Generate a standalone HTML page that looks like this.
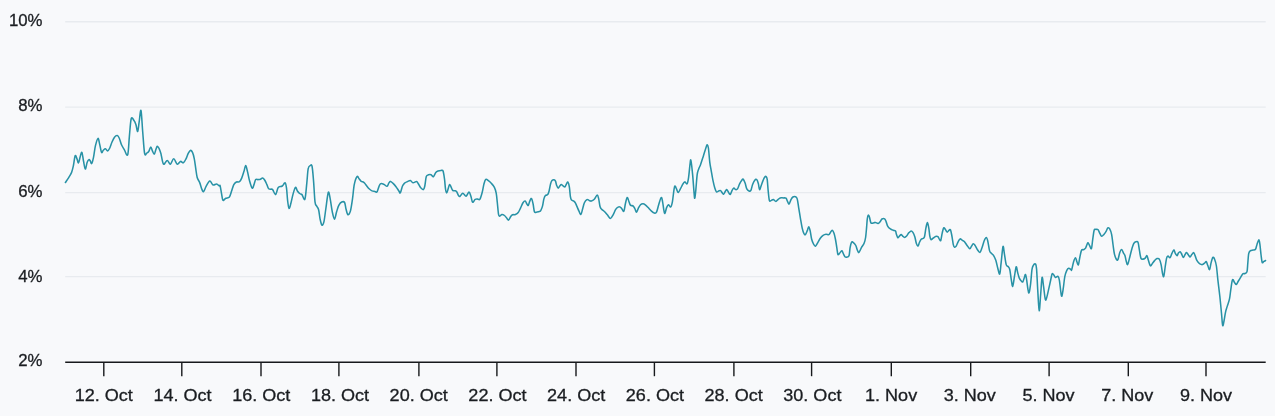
<!DOCTYPE html>
<html><head><meta charset="utf-8"><style>
html,body{margin:0;padding:0;background:#f8f9fb;}
body{width:1275px;height:416px;overflow:hidden;}
svg{display:block;will-change:transform;}
text{font-family:"Liberation Sans",sans-serif;font-size:16.8px;fill:#1a1d21;stroke:#1a1d21;stroke-width:0.3px;}
</style></head><body>
<svg width="1275" height="416" viewBox="0 0 1275 416">
<rect width="1275" height="416" fill="#f8f9fb"/>
<line x1="65.2" x2="1265.7" y1="21.7" y2="21.7" stroke="#e8ebef" stroke-width="1.4"/>
<line x1="65.2" x2="1265.7" y1="107.1" y2="107.1" stroke="#e8ebef" stroke-width="1.4"/>
<line x1="65.2" x2="1265.7" y1="192.6" y2="192.6" stroke="#e8ebef" stroke-width="1.4"/>
<line x1="65.2" x2="1265.7" y1="276.6" y2="276.6" stroke="#e8ebef" stroke-width="1.4"/>
<path d="M65.40 182.50 C65.95 181.68 67.68 179.25 68.70 177.60 C69.72 175.95 70.73 174.52 71.50 172.60 C72.27 170.68 72.68 168.92 73.30 166.10 C73.92 163.28 74.58 156.90 75.20 155.70 C75.82 154.50 76.45 157.70 77.00 158.90 C77.55 160.10 77.97 163.27 78.50 162.90 C79.03 162.53 79.63 158.45 80.20 156.70 C80.77 154.95 81.35 151.68 81.90 152.40 C82.45 153.12 82.93 158.23 83.50 161.00 C84.07 163.77 84.70 168.75 85.30 169.00 C85.90 169.25 86.50 164.07 87.10 162.50 C87.70 160.93 88.37 159.85 88.90 159.60 C89.43 159.35 89.83 160.35 90.30 161.00 C90.77 161.65 91.17 164.10 91.70 163.50 C92.23 162.90 92.88 160.33 93.50 157.40 C94.12 154.47 94.65 149.07 95.40 145.90 C96.15 142.73 97.28 138.65 98.00 138.40 C98.72 138.15 99.10 142.07 99.70 144.40 C100.30 146.73 101.00 151.43 101.60 152.40 C102.20 153.37 102.65 150.80 103.30 150.20 C103.95 149.60 104.78 148.68 105.50 148.80 C106.22 148.92 106.88 151.03 107.60 150.90 C108.32 150.77 109.08 149.43 109.80 148.00 C110.52 146.57 111.12 144.10 111.90 142.30 C112.68 140.50 113.60 138.32 114.50 137.20 C115.40 136.08 116.50 135.43 117.30 135.60 C118.10 135.77 118.60 136.68 119.30 138.20 C120.00 139.72 120.65 142.77 121.50 144.70 C122.35 146.63 123.37 148.12 124.40 149.80 C125.43 151.48 126.87 157.08 127.70 154.80 C128.53 152.52 128.82 142.10 129.40 136.10 C129.98 130.10 130.47 121.45 131.20 118.80 C131.93 116.15 133.02 119.25 133.80 120.20 C134.58 121.15 135.25 122.62 135.90 124.50 C136.55 126.38 137.15 131.98 137.70 131.50 C138.25 131.02 138.65 125.12 139.20 121.60 C139.75 118.08 140.42 108.72 141.00 110.40 C141.58 112.08 142.10 124.53 142.70 131.70 C143.30 138.87 143.93 149.83 144.60 153.40 C145.27 156.97 145.98 153.47 146.70 153.10 C147.42 152.73 148.22 152.23 148.90 151.20 C149.58 150.17 150.20 146.90 150.80 146.90 C151.40 146.90 151.92 150.00 152.50 151.20 C153.08 152.40 153.75 154.33 154.30 154.10 C154.85 153.87 155.30 151.12 155.80 149.80 C156.30 148.48 156.77 146.45 157.30 146.20 C157.83 145.95 158.40 147.10 159.00 148.30 C159.60 149.50 160.50 152.13 160.90 153.40 C161.30 154.67 160.95 154.10 161.40 155.90 C161.85 157.70 162.63 163.43 163.60 164.20 C164.57 164.97 166.07 160.50 167.20 160.50 C168.33 160.50 169.32 164.48 170.40 164.20 C171.48 163.92 172.55 158.80 173.70 158.80 C174.85 158.80 176.17 163.77 177.30 164.20 C178.43 164.63 179.48 161.63 180.50 161.40 C181.52 161.17 182.48 163.23 183.40 162.80 C184.32 162.37 185.22 160.32 186.00 158.80 C186.78 157.28 187.38 155.10 188.10 153.70 C188.82 152.30 189.57 150.63 190.30 150.40 C191.03 150.17 191.83 150.90 192.50 152.30 C193.17 153.70 193.75 156.03 194.30 158.80 C194.85 161.57 195.32 165.78 195.80 168.90 C196.28 172.02 196.55 175.22 197.20 177.50 C197.85 179.78 198.93 180.67 199.70 182.60 C200.47 184.53 201.15 187.58 201.80 189.10 C202.45 190.62 202.87 192.18 203.60 191.70 C204.33 191.22 205.17 187.97 206.20 186.20 C207.23 184.43 208.65 181.30 209.80 181.10 C210.95 180.90 211.97 184.52 213.10 185.00 C214.23 185.48 215.58 183.85 216.60 184.00 C217.62 184.15 218.62 185.60 219.20 185.90 C219.78 186.20 219.72 184.57 220.10 185.80 C220.48 187.03 221.03 190.90 221.50 193.30 C221.97 195.70 222.18 199.37 222.90 200.20 C223.62 201.03 224.72 198.85 225.80 198.30 C226.88 197.75 228.43 198.10 229.40 196.90 C230.37 195.70 230.87 193.15 231.60 191.10 C232.33 189.05 233.00 186.12 233.80 184.60 C234.60 183.08 235.45 182.48 236.40 182.00 C237.35 181.52 238.62 182.35 239.50 181.70 C240.38 181.05 240.97 179.78 241.70 178.10 C242.43 176.42 243.23 173.68 243.90 171.60 C244.57 169.52 245.10 165.60 245.70 165.60 C246.30 165.60 246.85 169.03 247.50 171.60 C248.15 174.17 248.82 178.23 249.60 181.00 C250.38 183.77 251.47 187.60 252.20 188.20 C252.93 188.80 253.42 186.03 254.00 184.60 C254.58 183.17 254.98 180.43 255.70 179.60 C256.42 178.77 257.50 179.65 258.30 179.60 C259.10 179.55 259.78 179.55 260.50 179.30 C261.22 179.05 261.88 177.93 262.60 178.10 C263.32 178.27 264.08 179.22 264.80 180.30 C265.52 181.38 266.25 183.20 266.90 184.60 C267.55 186.00 267.85 187.93 268.70 188.70 C269.55 189.47 271.30 188.98 272.00 189.20 C272.70 189.42 272.32 189.10 272.90 190.00 C273.48 190.90 274.67 194.92 275.50 194.60 C276.33 194.28 277.25 189.42 277.90 188.10 C278.55 186.78 278.67 187.05 279.40 186.70 C280.13 186.35 281.33 186.65 282.30 186.00 C283.27 185.35 284.48 182.32 285.20 182.80 C285.92 183.28 286.20 185.97 286.60 188.90 C287.00 191.83 287.20 197.17 287.60 200.40 C288.00 203.63 288.45 207.82 289.00 208.30 C289.55 208.78 290.22 205.70 290.90 203.30 C291.58 200.90 292.33 196.55 293.10 193.90 C293.87 191.25 294.78 187.88 295.50 187.40 C296.22 186.92 296.72 189.98 297.40 191.00 C298.08 192.02 298.83 192.90 299.60 193.50 C300.37 194.10 301.12 193.65 302.00 194.60 C302.88 195.55 304.10 201.12 304.90 199.20 C305.70 197.28 306.25 188.18 306.80 183.10 C307.35 178.02 307.60 171.63 308.20 168.70 C308.80 165.77 309.75 165.87 310.40 165.50 C311.05 165.13 311.57 163.82 312.10 166.50 C312.63 169.18 313.12 175.72 313.60 181.60 C314.08 187.48 314.48 197.72 315.00 201.80 C315.52 205.88 316.10 204.78 316.70 206.10 C317.30 207.42 318.03 207.53 318.60 209.70 C319.17 211.87 319.55 216.53 320.10 219.10 C320.65 221.67 321.27 224.63 321.90 225.10 C322.53 225.57 323.25 224.58 323.90 221.90 C324.55 219.22 325.07 213.92 325.80 209.00 C326.53 204.08 327.57 194.08 328.30 192.40 C329.03 190.72 329.53 195.67 330.20 198.90 C330.87 202.13 331.58 208.43 332.30 211.80 C333.02 215.17 333.78 219.10 334.50 219.10 C335.22 219.10 335.88 214.08 336.60 211.80 C337.32 209.52 337.95 207.03 338.80 205.40 C339.65 203.77 340.73 202.48 341.70 202.00 C342.67 201.52 343.88 201.33 344.60 202.50 C345.32 203.67 345.45 206.97 346.00 209.00 C346.55 211.03 347.17 214.35 347.90 214.70 C348.63 215.05 349.63 213.73 350.40 211.10 C351.17 208.47 351.85 203.35 352.50 198.90 C353.15 194.45 353.53 188.13 354.30 184.40 C355.07 180.67 356.32 177.45 357.10 176.50 C357.88 175.55 358.32 177.90 359.00 178.70 C359.68 179.50 360.40 180.70 361.20 181.30 C362.00 181.90 362.97 181.65 363.80 182.30 C364.63 182.95 365.32 184.12 366.20 185.20 C367.08 186.28 368.13 187.85 369.10 188.80 C370.07 189.75 371.03 190.47 372.00 190.90 C372.97 191.33 374.08 191.22 374.90 191.40 C375.72 191.58 376.27 192.67 376.90 192.00 C377.53 191.33 378.12 188.77 378.70 187.40 C379.28 186.03 379.57 184.33 380.40 183.80 C381.23 183.27 382.60 183.78 383.70 184.20 C384.80 184.62 386.15 186.48 387.00 186.30 C387.85 186.12 388.22 183.92 388.80 183.10 C389.38 182.28 389.78 181.35 390.50 181.40 C391.22 181.45 392.18 182.52 393.10 183.40 C394.02 184.28 395.03 185.43 396.00 186.70 C396.97 187.97 398.18 189.97 398.90 191.00 C399.62 192.03 399.70 193.73 400.30 192.90 C400.90 192.07 401.78 187.63 402.50 186.00 C403.22 184.37 403.77 183.83 404.60 183.10 C405.43 182.37 406.53 182.03 407.50 181.60 C408.47 181.17 409.48 180.30 410.40 180.50 C411.32 180.70 411.98 182.62 413.00 182.80 C414.02 182.98 415.62 181.43 416.50 181.60 C417.38 181.77 417.63 182.83 418.30 183.80 C418.97 184.77 419.65 186.43 420.50 187.40 C421.35 188.37 422.68 189.83 423.40 189.60 C424.12 189.37 424.32 188.17 424.80 186.00 C425.28 183.83 425.67 178.47 426.30 176.60 C426.93 174.73 427.80 175.10 428.60 174.80 C429.40 174.50 430.30 174.48 431.10 174.80 C431.90 175.12 432.62 177.10 433.40 176.70 C434.18 176.30 435.03 173.37 435.80 172.40 C436.57 171.43 437.15 171.22 438.00 170.90 C438.85 170.58 440.07 170.50 440.90 170.50 C441.73 170.50 442.40 169.50 443.00 170.90 C443.60 172.30 444.08 175.88 444.50 178.90 C444.92 181.92 445.15 186.65 445.50 189.00 C445.85 191.35 446.17 193.00 446.60 193.00 C447.03 193.00 447.62 190.40 448.10 189.00 C448.58 187.60 449.02 184.97 449.50 184.60 C449.98 184.23 450.47 185.83 451.00 186.80 C451.53 187.77 451.98 189.75 452.70 190.40 C453.42 191.05 454.63 190.47 455.30 190.70 C455.97 190.93 456.17 191.00 456.70 191.80 C457.23 192.60 457.97 194.72 458.50 195.50 C459.03 196.28 459.18 196.87 459.90 196.50 C460.62 196.13 461.77 193.35 462.80 193.30 C463.83 193.25 465.07 196.40 466.10 196.20 C467.13 196.00 468.20 192.10 469.00 192.10 C469.80 192.10 470.30 194.52 470.90 196.20 C471.50 197.88 471.88 201.67 472.60 202.20 C473.32 202.73 474.35 199.92 475.20 199.40 C476.05 198.88 476.93 199.10 477.70 199.10 C478.47 199.10 479.07 200.45 479.80 199.40 C480.53 198.35 481.40 195.40 482.10 192.80 C482.80 190.20 483.38 186.03 484.00 183.80 C484.62 181.57 485.02 179.88 485.80 179.40 C486.58 178.92 487.75 180.22 488.70 180.90 C489.65 181.58 490.55 182.42 491.50 183.50 C492.45 184.58 493.62 185.80 494.40 187.40 C495.18 189.00 495.72 190.58 496.20 193.10 C496.68 195.62 496.92 199.00 497.30 202.50 C497.68 206.00 498.13 211.82 498.50 214.10 C498.87 216.38 498.93 216.13 499.50 216.20 C500.07 216.27 501.07 214.62 501.90 214.50 C502.73 214.38 503.70 214.90 504.50 215.50 C505.30 216.10 506.02 217.33 506.70 218.10 C507.38 218.87 507.95 220.33 508.60 220.10 C509.25 219.87 509.95 217.58 510.60 216.70 C511.25 215.82 511.70 215.17 512.50 214.80 C513.30 214.43 514.45 214.87 515.40 214.50 C516.35 214.13 517.37 213.63 518.20 212.60 C519.03 211.57 519.60 209.93 520.40 208.30 C521.20 206.67 522.20 204.00 523.00 202.80 C523.80 201.60 524.55 200.90 525.20 201.10 C525.85 201.30 526.38 203.28 526.90 204.00 C527.42 204.72 527.82 205.88 528.30 205.40 C528.78 204.92 529.27 202.25 529.80 201.10 C530.33 199.95 530.95 198.02 531.50 198.50 C532.05 198.98 532.60 201.77 533.10 204.00 C533.60 206.23 533.85 210.58 534.50 211.90 C535.15 213.22 536.08 212.02 537.00 211.90 C537.92 211.78 539.37 211.43 540.00 211.20 C540.63 210.97 540.38 211.35 540.80 210.50 C541.22 209.65 541.98 208.03 542.50 206.10 C543.02 204.17 543.42 200.65 543.90 198.90 C544.38 197.15 544.77 196.32 545.40 195.60 C546.03 194.88 547.08 195.37 547.70 194.60 C548.32 193.83 548.62 192.80 549.10 191.00 C549.58 189.20 550.12 185.53 550.60 183.80 C551.08 182.07 551.43 181.28 552.00 180.60 C552.57 179.92 553.42 179.60 554.00 179.70 C554.58 179.80 555.07 180.28 555.50 181.20 C555.93 182.12 556.17 184.05 556.60 185.20 C557.03 186.35 557.57 187.98 558.10 188.10 C558.63 188.22 559.27 186.50 559.80 185.90 C560.33 185.30 560.75 184.50 561.30 184.50 C561.85 184.50 562.48 185.50 563.10 185.90 C563.72 186.30 564.43 187.25 565.00 186.90 C565.57 186.55 566.02 184.62 566.50 183.80 C566.98 182.98 567.43 181.53 567.90 182.00 C568.37 182.47 568.88 184.15 569.30 186.60 C569.72 189.05 570.05 194.48 570.40 196.70 C570.75 198.92 570.93 199.22 571.40 199.90 C571.87 200.58 572.58 200.37 573.20 200.80 C573.82 201.23 574.50 201.62 575.10 202.50 C575.70 203.38 576.15 204.65 576.80 206.10 C577.45 207.55 578.32 209.82 579.00 211.20 C579.68 212.58 580.30 214.77 580.90 214.40 C581.50 214.03 582.02 210.93 582.60 209.00 C583.18 207.07 583.68 204.37 584.40 202.80 C585.12 201.23 586.12 200.00 586.90 199.60 C587.68 199.20 588.37 200.15 589.10 200.40 C589.83 200.65 590.43 201.28 591.30 201.10 C592.17 200.92 593.32 200.32 594.30 199.30 C595.28 198.28 596.47 195.07 597.20 195.00 C597.93 194.93 598.22 196.93 598.70 198.90 C599.18 200.87 599.58 205.05 600.10 206.80 C600.62 208.55 601.08 208.62 601.80 209.40 C602.52 210.18 603.48 210.60 604.40 211.50 C605.32 212.40 606.28 213.65 607.30 214.80 C608.32 215.95 609.53 218.40 610.50 218.40 C611.47 218.40 612.23 216.30 613.10 214.80 C613.97 213.30 614.87 210.68 615.70 209.40 C616.53 208.12 617.33 207.48 618.10 207.10 C618.87 206.72 619.65 206.78 620.30 207.10 C620.95 207.42 621.40 208.32 622.00 209.00 C622.60 209.68 623.33 212.08 623.90 211.20 C624.47 210.32 624.85 205.98 625.40 203.70 C625.95 201.42 626.60 197.82 627.20 197.50 C627.80 197.18 628.47 200.53 629.00 201.80 C629.53 203.07 629.68 204.38 630.40 205.10 C631.12 205.82 632.53 205.45 633.30 206.10 C634.07 206.75 634.47 207.97 635.00 209.00 C635.53 210.03 635.95 212.42 636.50 212.30 C637.05 212.18 637.63 209.57 638.30 208.30 C638.97 207.03 639.70 205.47 640.50 204.70 C641.30 203.93 642.25 203.63 643.10 203.70 C643.95 203.77 644.80 204.50 645.60 205.10 C646.40 205.70 646.92 206.28 647.90 207.30 C648.88 208.32 650.42 210.23 651.50 211.20 C652.58 212.17 653.57 212.93 654.40 213.10 C655.23 213.27 655.78 213.60 656.50 212.20 C657.22 210.80 657.92 207.15 658.70 204.70 C659.48 202.25 660.55 197.98 661.20 197.50 C661.85 197.02 662.17 199.75 662.60 201.80 C663.03 203.85 663.42 207.87 663.80 209.80 C664.18 211.73 664.43 213.77 664.90 213.40 C665.37 213.03 666.02 209.05 666.60 207.60 C667.18 206.15 667.72 204.82 668.40 204.70 C669.08 204.58 670.03 207.38 670.70 206.90 C671.37 206.42 671.87 204.57 672.40 201.80 C672.93 199.03 673.48 192.93 673.90 190.30 C674.32 187.67 674.47 186.23 674.90 186.00 C675.33 185.77 675.95 187.82 676.50 188.90 C677.05 189.98 677.55 192.50 678.20 192.50 C678.85 192.50 679.63 190.28 680.40 188.90 C681.17 187.52 682.08 185.37 682.80 184.20 C683.52 183.03 683.98 181.97 684.70 181.90 C685.42 181.83 686.45 184.57 687.10 183.80 C687.75 183.03 688.12 180.55 688.60 177.30 C689.08 174.05 689.62 167.12 690.00 164.30 C690.38 161.48 690.47 158.72 690.90 160.40 C691.33 162.08 692.07 168.93 692.60 174.40 C693.13 179.87 693.73 189.23 694.10 193.20 C694.47 197.17 694.52 198.68 694.80 198.20 C695.08 197.72 695.40 194.27 695.80 190.30 C696.20 186.33 696.72 177.97 697.20 174.40 C697.68 170.83 698.13 170.55 698.70 168.90 C699.27 167.25 699.82 166.67 700.60 164.50 C701.38 162.33 702.48 158.77 703.40 155.90 C704.32 153.03 705.47 149.15 706.10 147.30 C706.73 145.45 706.82 144.68 707.20 144.80 C707.58 144.92 707.97 145.07 708.40 148.00 C708.83 150.93 709.35 158.72 709.80 162.40 C710.25 166.08 710.58 167.13 711.10 170.10 C711.62 173.07 712.28 177.20 712.90 180.20 C713.52 183.20 714.20 186.13 714.80 188.10 C715.40 190.07 715.85 191.52 716.50 192.00 C717.15 192.48 718.02 191.23 718.70 191.00 C719.38 190.77 720.05 190.35 720.60 190.60 C721.15 190.85 721.52 191.88 722.00 192.50 C722.48 193.12 722.92 194.55 723.50 194.30 C724.08 194.05 724.93 191.78 725.50 191.00 C726.07 190.22 726.35 189.28 726.90 189.60 C727.45 189.92 728.23 192.12 728.80 192.90 C729.37 193.68 729.75 194.73 730.30 194.30 C730.85 193.87 731.50 191.33 732.10 190.30 C732.70 189.27 733.32 188.22 733.90 188.10 C734.48 187.98 735.00 189.47 735.60 189.60 C736.20 189.73 736.83 189.87 737.50 188.90 C738.17 187.93 738.88 185.25 739.60 183.80 C740.32 182.35 741.20 180.97 741.80 180.20 C742.40 179.43 742.65 178.72 743.20 179.20 C743.75 179.68 744.50 181.48 745.10 183.10 C745.70 184.72 746.15 187.58 746.80 188.90 C747.45 190.22 748.32 190.77 749.00 191.00 C749.68 191.23 750.30 191.38 750.90 190.30 C751.50 189.22 751.95 186.18 752.60 184.50 C753.25 182.82 754.12 181.03 754.80 180.20 C755.48 179.37 756.10 178.90 756.70 179.50 C757.30 180.10 757.93 182.12 758.40 183.80 C758.87 185.48 759.02 189.37 759.50 189.60 C759.98 189.83 760.73 186.65 761.30 185.20 C761.87 183.75 762.35 182.22 762.90 180.90 C763.45 179.58 764.07 178.03 764.60 177.30 C765.13 176.57 765.67 176.15 766.10 176.50 C766.53 176.85 766.85 176.98 767.20 179.40 C767.55 181.82 767.83 187.50 768.20 191.00 C768.57 194.50 768.88 198.83 769.40 200.40 C769.92 201.97 770.65 200.53 771.30 200.40 C771.95 200.27 772.53 199.43 773.30 199.60 C774.07 199.77 775.12 201.40 775.90 201.40 C776.68 201.40 777.28 200.18 778.00 199.60 C778.72 199.02 779.35 198.18 780.20 197.90 C781.05 197.62 782.13 197.85 783.10 197.90 C784.07 197.95 785.28 197.67 786.00 198.20 C786.72 198.73 786.88 200.13 787.40 201.10 C787.92 202.07 788.50 204.25 789.10 204.00 C789.70 203.75 790.37 200.77 791.00 199.60 C791.63 198.43 792.17 197.48 792.90 197.00 C793.63 196.52 794.68 196.38 795.40 196.70 C796.12 197.02 796.65 197.05 797.20 198.90 C797.75 200.75 798.15 204.48 798.70 207.80 C799.25 211.12 799.92 215.42 800.50 218.80 C801.08 222.18 801.63 225.65 802.20 228.10 C802.77 230.55 803.37 232.42 803.90 233.50 C804.43 234.58 804.83 235.08 805.40 234.60 C805.97 234.12 806.75 231.92 807.30 230.60 C807.85 229.28 808.22 226.63 808.70 226.70 C809.18 226.77 809.72 228.95 810.20 231.00 C810.68 233.05 811.05 236.83 811.60 239.00 C812.15 241.17 812.85 242.80 813.50 244.00 C814.15 245.20 814.78 246.43 815.50 246.20 C816.22 245.97 817.00 243.93 817.80 242.60 C818.60 241.27 819.42 239.40 820.30 238.20 C821.18 237.00 822.15 236.05 823.10 235.40 C824.05 234.75 825.03 234.43 826.00 234.30 C826.97 234.17 828.17 234.90 828.90 234.60 C829.63 234.30 829.85 233.22 830.40 232.50 C830.95 231.78 831.60 230.18 832.20 230.30 C832.80 230.42 833.47 231.75 834.00 233.20 C834.53 234.65 834.93 236.60 835.40 239.00 C835.87 241.40 836.37 245.02 836.80 247.60 C837.23 250.18 837.47 253.65 838.00 254.50 C838.53 255.35 839.35 253.32 840.00 252.70 C840.65 252.08 841.35 250.63 841.90 250.80 C842.45 250.97 842.75 252.67 843.30 253.70 C843.85 254.73 844.55 256.45 845.20 257.00 C845.85 257.55 846.55 257.23 847.20 257.00 C847.85 256.77 848.62 257.17 849.10 255.60 C849.58 254.03 849.68 249.85 850.10 247.60 C850.52 245.35 851.05 242.93 851.60 242.10 C852.15 241.27 852.70 242.03 853.40 242.60 C854.10 243.17 855.17 244.30 855.80 245.50 C856.43 246.70 856.72 248.60 857.20 249.80 C857.68 251.00 858.17 252.70 858.70 252.70 C859.23 252.70 859.88 250.77 860.40 249.80 C860.92 248.83 861.18 247.98 861.80 246.90 C862.42 245.82 863.47 244.87 864.10 243.30 C864.73 241.73 865.18 240.15 865.60 237.50 C866.02 234.85 866.32 230.52 866.60 227.40 C866.88 224.28 867.02 220.83 867.30 218.80 C867.58 216.77 867.93 215.45 868.30 215.20 C868.67 214.95 869.07 216.03 869.50 217.30 C869.93 218.57 870.30 221.83 870.90 222.80 C871.50 223.77 872.37 223.17 873.10 223.10 C873.83 223.03 874.47 222.35 875.30 222.40 C876.13 222.45 877.27 223.57 878.10 223.40 C878.93 223.23 879.65 222.13 880.30 221.40 C880.95 220.67 881.28 219.43 882.00 219.00 C882.72 218.57 883.92 218.37 884.60 218.80 C885.28 219.23 885.57 220.35 886.10 221.60 C886.63 222.85 887.08 225.08 887.80 226.30 C888.52 227.52 889.48 228.23 890.40 228.90 C891.32 229.57 892.45 229.95 893.30 230.30 C894.15 230.65 894.97 230.28 895.50 231.00 C896.03 231.72 896.10 233.47 896.50 234.60 C896.90 235.73 897.42 237.55 897.90 237.80 C898.38 238.05 898.85 236.63 899.40 236.10 C899.95 235.57 900.65 234.60 901.20 234.60 C901.75 234.60 902.15 235.62 902.70 236.10 C903.25 236.58 903.85 237.50 904.50 237.50 C905.15 237.50 905.95 236.82 906.60 236.10 C907.25 235.38 908.00 233.77 908.40 233.20 C908.80 232.63 908.55 233.07 909.00 232.70 C909.45 232.33 910.45 231.05 911.10 231.00 C911.75 230.95 912.28 231.45 912.90 232.40 C913.52 233.35 914.23 234.90 914.80 236.70 C915.37 238.50 915.77 241.63 916.30 243.20 C916.83 244.77 917.48 246.22 918.00 246.10 C918.52 245.98 918.87 243.63 919.40 242.50 C919.93 241.37 920.60 239.97 921.20 239.30 C921.80 238.63 922.45 238.93 923.00 238.50 C923.55 238.07 924.02 238.43 924.50 236.70 C924.98 234.97 925.42 230.45 925.90 228.10 C926.38 225.75 926.92 222.60 927.40 222.60 C927.88 222.60 928.40 225.87 928.80 228.10 C929.20 230.33 929.43 234.08 929.80 236.00 C930.17 237.92 930.45 239.23 931.00 239.60 C931.55 239.97 932.33 238.72 933.10 238.20 C933.87 237.68 934.80 236.75 935.60 236.50 C936.40 236.25 937.23 236.18 937.90 236.70 C938.57 237.22 939.12 238.98 939.60 239.60 C940.08 240.22 940.37 241.48 940.80 240.40 C941.23 239.32 941.72 235.20 942.20 233.10 C942.68 231.00 943.17 228.40 943.70 227.80 C944.23 227.20 944.83 228.78 945.40 229.50 C945.97 230.22 946.50 231.97 947.10 232.10 C947.70 232.23 948.43 230.68 949.00 230.30 C949.57 229.92 950.02 228.85 950.50 229.80 C950.98 230.75 951.43 233.52 951.90 236.00 C952.37 238.48 952.88 242.85 953.30 244.70 C953.72 246.55 953.92 246.87 954.40 247.10 C954.88 247.33 955.58 246.98 956.20 246.10 C956.82 245.22 957.45 243.00 958.10 241.80 C958.75 240.60 959.38 239.13 960.10 238.90 C960.82 238.67 961.70 239.97 962.40 240.40 C963.10 240.83 963.55 240.70 964.30 241.50 C965.05 242.30 965.98 243.98 966.90 245.20 C967.82 246.42 969.03 248.63 969.80 248.80 C970.57 248.97 970.92 247.05 971.50 246.20 C972.08 245.35 972.68 243.80 973.30 243.70 C973.92 243.60 974.53 244.63 975.20 245.60 C975.87 246.57 976.52 248.37 977.30 249.50 C978.08 250.63 979.13 252.65 979.90 252.40 C980.67 252.15 981.18 249.93 981.90 248.00 C982.62 246.07 983.47 242.55 984.20 240.80 C984.93 239.05 985.72 237.50 986.30 237.50 C986.88 237.50 987.15 238.57 987.70 240.80 C988.25 243.03 988.97 248.80 989.60 250.90 C990.23 253.00 990.85 252.67 991.50 253.40 C992.15 254.13 992.78 254.15 993.50 255.30 C994.22 256.45 995.08 258.15 995.80 260.30 C996.52 262.45 997.15 265.92 997.80 268.20 C998.45 270.48 999.15 274.83 999.70 274.00 C1000.25 273.17 1000.55 267.77 1001.10 263.20 C1001.65 258.63 1002.45 248.17 1003.00 246.60 C1003.55 245.03 1003.87 250.80 1004.40 253.80 C1004.93 256.80 1005.55 262.43 1006.20 264.60 C1006.85 266.77 1007.70 265.95 1008.30 266.80 C1008.90 267.65 1009.32 267.65 1009.80 269.70 C1010.28 271.75 1010.72 276.33 1011.20 279.10 C1011.68 281.87 1012.15 286.78 1012.70 286.30 C1013.25 285.82 1013.92 279.45 1014.50 276.20 C1015.08 272.95 1015.68 267.45 1016.20 266.80 C1016.72 266.15 1017.08 270.42 1017.60 272.30 C1018.12 274.18 1018.65 276.60 1019.30 278.10 C1019.95 279.60 1020.90 280.70 1021.50 281.30 C1022.10 281.90 1022.42 282.35 1022.90 281.70 C1023.38 281.05 1023.97 278.60 1024.40 277.40 C1024.83 276.20 1025.15 274.27 1025.50 274.50 C1025.85 274.73 1026.08 276.28 1026.50 278.80 C1026.92 281.32 1027.57 287.27 1028.00 289.60 C1028.43 291.93 1028.67 293.75 1029.10 292.80 C1029.53 291.85 1030.12 287.80 1030.60 283.90 C1031.08 280.00 1031.52 272.53 1032.00 269.40 C1032.48 266.27 1032.92 266.02 1033.50 265.10 C1034.08 264.18 1034.98 263.18 1035.50 263.90 C1036.02 264.62 1036.22 264.87 1036.60 269.40 C1036.98 273.93 1037.37 284.23 1037.80 291.10 C1038.23 297.97 1038.72 310.12 1039.20 310.60 C1039.68 311.08 1040.22 299.53 1040.70 294.00 C1041.18 288.47 1041.62 278.62 1042.10 277.40 C1042.58 276.18 1043.07 283.03 1043.60 286.70 C1044.13 290.37 1044.78 297.58 1045.30 299.40 C1045.82 301.22 1046.10 299.47 1046.70 297.60 C1047.30 295.73 1048.22 291.22 1048.90 288.20 C1049.58 285.18 1050.25 281.90 1050.80 279.50 C1051.35 277.10 1051.67 274.52 1052.20 273.80 C1052.73 273.08 1053.47 274.60 1054.00 275.20 C1054.53 275.80 1054.73 277.20 1055.40 277.40 C1056.07 277.60 1057.33 275.92 1058.00 276.40 C1058.67 276.88 1058.92 277.62 1059.40 280.30 C1059.88 282.98 1060.48 289.87 1060.90 292.50 C1061.32 295.13 1061.50 296.82 1061.90 296.10 C1062.30 295.38 1062.82 291.45 1063.30 288.20 C1063.78 284.95 1064.23 279.53 1064.80 276.60 C1065.37 273.67 1066.05 271.98 1066.70 270.60 C1067.35 269.22 1067.98 268.47 1068.70 268.30 C1069.42 268.13 1070.50 269.35 1071.00 269.60 C1071.50 269.85 1071.27 271.10 1071.70 269.80 C1072.13 268.50 1072.97 263.80 1073.60 261.80 C1074.23 259.80 1074.95 257.80 1075.50 257.80 C1076.05 257.80 1076.42 260.65 1076.90 261.80 C1077.38 262.95 1077.92 265.42 1078.40 264.70 C1078.88 263.98 1079.28 259.90 1079.80 257.50 C1080.32 255.10 1080.85 251.62 1081.50 250.30 C1082.15 248.98 1083.02 249.97 1083.70 249.60 C1084.38 249.23 1085.05 248.95 1085.60 248.10 C1086.15 247.25 1086.60 245.38 1087.00 244.50 C1087.40 243.62 1087.58 242.67 1088.00 242.80 C1088.42 242.93 1088.93 244.33 1089.50 245.30 C1090.07 246.27 1090.85 249.68 1091.40 248.60 C1091.95 247.52 1092.33 241.88 1092.80 238.80 C1093.27 235.72 1093.67 231.67 1094.20 230.10 C1094.73 228.53 1095.35 229.45 1096.00 229.40 C1096.65 229.35 1097.43 229.08 1098.10 229.80 C1098.77 230.52 1099.40 232.63 1100.00 233.70 C1100.60 234.77 1101.05 236.08 1101.70 236.20 C1102.35 236.32 1103.17 235.22 1103.90 234.40 C1104.63 233.58 1105.45 232.38 1106.10 231.30 C1106.75 230.22 1107.20 228.30 1107.80 227.90 C1108.40 227.50 1109.07 227.82 1109.70 228.90 C1110.33 229.98 1111.05 231.80 1111.60 234.40 C1112.15 237.00 1112.53 241.25 1113.00 244.50 C1113.47 247.75 1113.87 251.48 1114.40 253.90 C1114.93 256.32 1115.62 258.03 1116.20 259.00 C1116.78 259.97 1117.30 260.78 1117.90 259.70 C1118.50 258.62 1119.17 254.18 1119.80 252.50 C1120.43 250.82 1121.10 249.53 1121.70 249.60 C1122.30 249.67 1122.85 251.88 1123.40 252.90 C1123.95 253.92 1124.53 254.35 1125.00 255.70 C1125.47 257.05 1125.77 259.52 1126.20 261.00 C1126.63 262.48 1127.08 264.95 1127.60 264.60 C1128.12 264.25 1128.65 261.30 1129.30 258.90 C1129.95 256.50 1130.77 252.73 1131.50 250.20 C1132.23 247.67 1132.98 245.10 1133.70 243.70 C1134.42 242.30 1135.08 242.03 1135.80 241.80 C1136.52 241.57 1137.40 240.90 1138.00 242.30 C1138.60 243.70 1138.92 247.57 1139.40 250.20 C1139.88 252.83 1140.30 256.62 1140.90 258.10 C1141.50 259.58 1142.28 259.10 1143.00 259.10 C1143.72 259.10 1144.55 258.67 1145.20 258.10 C1145.85 257.53 1146.37 255.33 1146.90 255.70 C1147.43 256.07 1147.83 258.62 1148.40 260.30 C1148.97 261.98 1149.68 265.20 1150.30 265.80 C1150.92 266.40 1151.38 264.77 1152.10 263.90 C1152.82 263.03 1153.78 261.48 1154.60 260.60 C1155.42 259.72 1156.22 258.85 1157.00 258.60 C1157.78 258.35 1158.62 258.10 1159.30 259.10 C1159.98 260.10 1160.57 262.23 1161.10 264.60 C1161.63 266.97 1162.07 271.32 1162.50 273.30 C1162.93 275.28 1163.27 277.47 1163.70 276.50 C1164.13 275.53 1164.62 270.57 1165.10 267.50 C1165.58 264.43 1166.12 260.02 1166.60 258.10 C1167.08 256.18 1167.43 256.07 1168.00 256.00 C1168.57 255.93 1169.35 258.13 1170.00 257.70 C1170.65 257.27 1171.27 254.70 1171.90 253.40 C1172.53 252.10 1173.25 249.95 1173.80 249.90 C1174.35 249.85 1174.67 252.13 1175.20 253.10 C1175.73 254.07 1176.47 255.70 1177.00 255.70 C1177.53 255.70 1177.88 253.75 1178.40 253.10 C1178.92 252.45 1179.60 251.73 1180.10 251.80 C1180.60 251.87 1180.88 252.57 1181.40 253.50 C1181.92 254.43 1182.58 257.23 1183.20 257.40 C1183.82 257.57 1184.55 255.30 1185.10 254.50 C1185.65 253.70 1185.95 252.53 1186.50 252.60 C1187.05 252.67 1187.80 254.18 1188.40 254.90 C1189.00 255.62 1189.53 256.97 1190.10 256.90 C1190.67 256.83 1191.20 255.22 1191.80 254.50 C1192.40 253.78 1193.13 252.37 1193.70 252.60 C1194.27 252.83 1194.65 254.55 1195.20 255.90 C1195.75 257.25 1196.28 259.42 1197.00 260.70 C1197.72 261.98 1198.60 262.95 1199.50 263.60 C1200.40 264.25 1201.57 264.68 1202.40 264.60 C1203.23 264.52 1203.85 263.58 1204.50 263.10 C1205.15 262.62 1205.77 261.33 1206.30 261.70 C1206.83 262.07 1207.15 263.98 1207.70 265.30 C1208.25 266.62 1209.05 269.97 1209.60 269.60 C1210.15 269.23 1210.45 265.13 1211.00 263.10 C1211.55 261.07 1212.30 258.05 1212.90 257.40 C1213.50 256.75 1214.02 257.77 1214.60 259.20 C1215.18 260.63 1215.85 262.52 1216.40 266.00 C1216.95 269.48 1217.33 275.10 1217.90 280.10 C1218.47 285.10 1219.20 290.47 1219.80 296.00 C1220.40 301.53 1221.02 308.37 1221.50 313.30 C1221.98 318.23 1222.27 324.40 1222.70 325.60 C1223.13 326.80 1223.62 322.80 1224.10 320.50 C1224.58 318.20 1225.07 314.20 1225.60 311.80 C1226.13 309.40 1226.65 308.25 1227.30 306.10 C1227.95 303.95 1228.90 301.78 1229.50 298.90 C1230.10 296.02 1230.40 291.98 1230.90 288.80 C1231.40 285.62 1231.90 280.87 1232.50 279.80 C1233.10 278.73 1233.87 281.63 1234.50 282.40 C1235.13 283.17 1235.65 284.63 1236.30 284.40 C1236.95 284.17 1237.68 282.17 1238.40 281.00 C1239.12 279.83 1239.87 278.58 1240.60 277.40 C1241.33 276.22 1242.07 274.55 1242.80 273.90 C1243.53 273.25 1244.30 273.88 1245.00 273.50 C1245.70 273.12 1246.53 273.30 1247.00 271.60 C1247.47 269.90 1247.52 266.30 1247.80 263.30 C1248.08 260.30 1248.25 255.70 1248.70 253.60 C1249.15 251.50 1249.77 251.30 1250.50 250.70 C1251.23 250.10 1252.27 250.23 1253.10 250.00 C1253.93 249.77 1254.85 250.23 1255.50 249.30 C1256.15 248.37 1256.43 245.98 1257.00 244.40 C1257.57 242.82 1258.42 239.80 1258.90 239.80 C1259.38 239.80 1259.55 241.95 1259.90 244.40 C1260.25 246.85 1260.62 251.50 1261.00 254.50 C1261.38 257.50 1261.72 261.25 1262.20 262.40 C1262.68 263.55 1263.33 261.72 1263.90 261.40 C1264.47 261.08 1265.32 260.65 1265.60 260.50" fill="none" stroke="#2892a6" stroke-width="1.55" stroke-linejoin="round" stroke-linecap="round"/>
<line x1="65.2" x2="1265.7" y1="362.3" y2="362.3" stroke="#17191c" stroke-width="1.5"/>
<line x1="103.80" x2="103.80" y1="362.3" y2="376.2" stroke="#17191c" stroke-width="1.4"/>
<line x1="181.80" x2="181.80" y1="362.3" y2="376.2" stroke="#17191c" stroke-width="1.4"/>
<line x1="261.00" x2="261.00" y1="362.3" y2="376.2" stroke="#17191c" stroke-width="1.4"/>
<line x1="338.90" x2="338.90" y1="362.3" y2="376.2" stroke="#17191c" stroke-width="1.4"/>
<line x1="418.90" x2="418.90" y1="362.3" y2="376.2" stroke="#17191c" stroke-width="1.4"/>
<line x1="496.90" x2="496.90" y1="362.3" y2="376.2" stroke="#17191c" stroke-width="1.4"/>
<line x1="576.00" x2="576.00" y1="362.3" y2="376.2" stroke="#17191c" stroke-width="1.4"/>
<line x1="654.40" x2="654.40" y1="362.3" y2="376.2" stroke="#17191c" stroke-width="1.4"/>
<line x1="733.90" x2="733.90" y1="362.3" y2="376.2" stroke="#17191c" stroke-width="1.4"/>
<line x1="811.60" x2="811.60" y1="362.3" y2="376.2" stroke="#17191c" stroke-width="1.4"/>
<line x1="891.30" x2="891.30" y1="362.3" y2="376.2" stroke="#17191c" stroke-width="1.4"/>
<line x1="970.70" x2="970.70" y1="362.3" y2="376.2" stroke="#17191c" stroke-width="1.4"/>
<line x1="1049.10" x2="1049.10" y1="362.3" y2="376.2" stroke="#17191c" stroke-width="1.4"/>
<line x1="1128.30" x2="1128.30" y1="362.3" y2="376.2" stroke="#17191c" stroke-width="1.4"/>
<line x1="1206.00" x2="1206.00" y1="362.3" y2="376.2" stroke="#17191c" stroke-width="1.4"/>
<text x="103.80" y="401" text-anchor="middle" transform="matrix(1.075 0 0 1 -7.78 0)">12. Oct</text>
<text x="182.53" y="401" text-anchor="middle" transform="matrix(1.075 0 0 1 -13.69 0)">14. Oct</text>
<text x="261.26" y="401" text-anchor="middle" transform="matrix(1.075 0 0 1 -19.59 0)">16. Oct</text>
<text x="339.99" y="401" text-anchor="middle" transform="matrix(1.075 0 0 1 -25.50 0)">18. Oct</text>
<text x="418.72" y="401" text-anchor="middle" transform="matrix(1.075 0 0 1 -31.40 0)">20. Oct</text>
<text x="497.45" y="401" text-anchor="middle" transform="matrix(1.075 0 0 1 -37.31 0)">22. Oct</text>
<text x="576.18" y="401" text-anchor="middle" transform="matrix(1.075 0 0 1 -43.21 0)">24. Oct</text>
<text x="654.91" y="401" text-anchor="middle" transform="matrix(1.075 0 0 1 -49.12 0)">26. Oct</text>
<text x="733.64" y="401" text-anchor="middle" transform="matrix(1.075 0 0 1 -55.02 0)">28. Oct</text>
<text x="812.37" y="401" text-anchor="middle" transform="matrix(1.075 0 0 1 -60.93 0)">30. Oct</text>
<text x="891.10" y="401" text-anchor="middle" transform="matrix(1.075 0 0 1 -66.83 0)">1. Nov</text>
<text x="969.83" y="401" text-anchor="middle" transform="matrix(1.075 0 0 1 -72.74 0)">3. Nov</text>
<text x="1048.56" y="401" text-anchor="middle" transform="matrix(1.075 0 0 1 -78.64 0)">5. Nov</text>
<text x="1127.29" y="401" text-anchor="middle" transform="matrix(1.075 0 0 1 -84.55 0)">7. Nov</text>
<text x="1206.02" y="401" text-anchor="middle" transform="matrix(1.075 0 0 1 -90.45 0)">9. Nov</text>
<text x="42.5" y="26.0" text-anchor="end">10%</text>
<text x="42.5" y="111.3" text-anchor="end">8%</text>
<text x="42.5" y="197.1" text-anchor="end">6%</text>
<text x="42.5" y="282.0" text-anchor="end">4%</text>
<text x="42.5" y="366.1" text-anchor="end">2%</text>
</svg>
</body></html>
